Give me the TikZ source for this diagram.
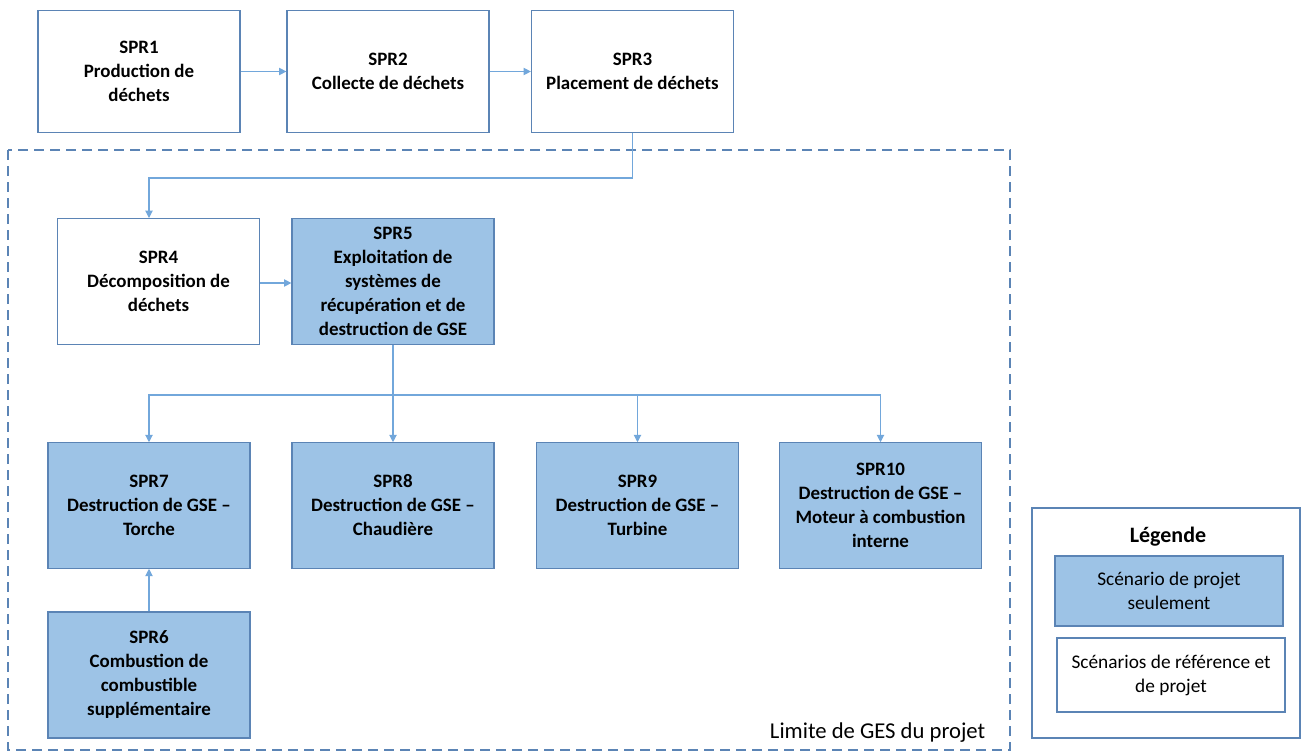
\documentclass[tikz,border=0pt]{standalone}
\usepackage{fontspec}
\setmainfont{Carlito}
\usetikzlibrary{arrows.meta,positioning,calc}
\definecolor{boxline}{HTML}{5B84B5}
\definecolor{boxfill}{HTML}{9DC3E6}
\definecolor{flowline}{HTML}{72A7DB}

\tikzset{
  stage/.style={draw=boxline, line width=0.9pt, align=center, inner sep=2pt,
    minimum width=151.5pt, font=\bfseries\fontsize{14.2}{18}\selectfont},
  project/.style={stage, fill=boxfill},
  flow/.style={draw=flowline, line width=0.8pt, -{Triangle[length=5.5pt,width=5.5pt]}},
  legtext/.style={align=center, font=\fontsize{14.5}{18}\selectfont}
}

\begin{document}
\begin{tikzpicture}[x=0.75pt, y=-0.75pt]
\useasboundingbox (0,0) rectangle (1304,753);

% Upstream stages
\node[stage, minimum height=92pt] (spr1) at (139,71.5) {SPR1\\Production de\\déchets};
\node[stage, minimum height=92pt] (spr2) at (388,71.5) {SPR2\\Collecte de déchets};
\node[stage, minimum height=92pt] (spr3) at (632.5,71.5) {SPR3\\Placement de déchets};

% Project boundary
\draw[boxline, line width=1pt, dash pattern=on 7.5pt off 4.5pt] (8,150) rectangle (1010,750);
\node[font=\fontsize{17}{20}\selectfont, anchor=east] (limit) at (990,733) {Limite de GES du projet};

% Stages inside the boundary
\node[stage, minimum height=95pt] (spr4) at (158.5,281.5) {SPR4\\Décomposition de\\déchets};
\node[project, minimum height=95pt] (spr5) at (393,281.5) {SPR5\\Exploitation de\\systèmes de\\récupération et de\\destruction de GSE};
\node[project, minimum height=94pt] (spr7) at (149,505.5) {SPR7\\Destruction de GSE --\\Torche};
\node[project, minimum height=94pt] (spr8) at (393,505.5) {SPR8\\Destruction de GSE --\\Chaudière};
\node[project, minimum height=94pt] (spr9) at (637.5,505.5) {SPR9\\Destruction de GSE --\\Turbine};
\node[project, minimum height=94pt] (spr10) at (880.5,505.5) {SPR10\\Destruction de GSE --\\Moteur à combustion\\interne};
\node[project, minimum height=94.5pt] (spr6) at (149,675) {SPR6\\Combustion de\\combustible\\supplémentaire};

% Connectors
\coordinate (turn3) at (632.5,178);
\coordinate (branch) at (393,395);
\draw[flow] (spr1) -- (spr2);
\draw[flow] (spr2) -- (spr3);
\draw[flow] (spr3.south) -- (turn3) -| (149,218);
\draw[flow] (spr4.east |- 0,283) -- (spr5.west |- 0,283);
\draw[flow] (spr5.south) -- (branch) -| (spr7.north);
\draw[flow] (branch) -- (spr8.north);
\draw[flow] (branch) -| (spr9.north);
\draw[flow] (branch) -| (spr10.north);
\draw[flow] (spr6) -- (spr7);

% Legend
\node[draw=boxline, line width=0.9pt, minimum width=201pt, minimum height=172.5pt] (legend) at (1166,623) {};
\node[font=\bfseries\fontsize{16.5}{19}\selectfont] (legtitle) at (1168,537) {Légende};
\node[draw=boxline, fill=boxfill, line width=0.9pt, minimum width=171pt, minimum height=52.5pt, legtext] (legproj) at (1169,591) {Scénario de projet\\seulement};
\node[draw=boxline, line width=0.9pt, minimum width=171pt, minimum height=55.5pt, legtext] (legref) at (1171,675) {Scénarios de référence et\\de projet};

\end{tikzpicture}
\end{document}
